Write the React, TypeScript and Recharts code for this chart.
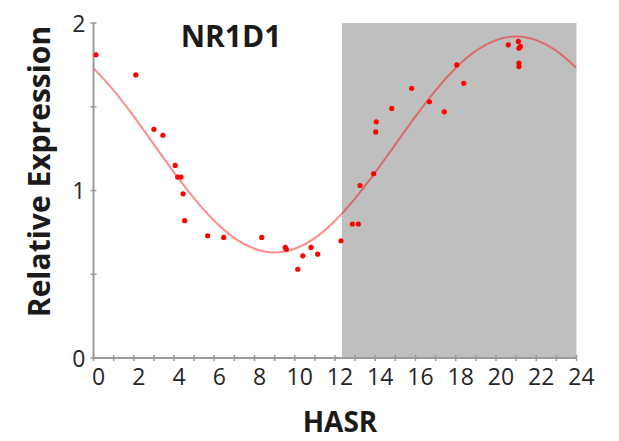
import React from 'react';
import { ComposedChart, Line, Scatter, XAxis, YAxis, ReferenceArea, Customized } from 'recharts';

// Measured samples
const sampleHours = [0.12, 2.1, 3.0, 3.45, 4.06, 4.18, 4.35, 4.45, 4.53, 5.67, 6.47, 8.36, 9.53, 9.58, 10.15, 10.4, 10.81, 11.14, 12.3, 12.86, 13.16, 13.24, 13.92, 14.02, 14.05, 14.82, 15.81, 16.69, 17.43, 18.05, 18.4, 20.61, 21.11, 21.14, 21.21, 21.14, 21.14];
const sampleValues = [1.81, 1.69, 1.365, 1.33, 1.15, 1.08, 1.08, 0.98, 0.82, 0.73, 0.72, 0.72, 0.66, 0.65, 0.53, 0.61, 0.66, 0.62, 0.7, 0.8, 0.8, 1.03, 1.1, 1.35, 1.41, 1.49, 1.61, 1.53, 1.47, 1.75, 1.64, 1.87, 1.89, 1.85, 1.86, 1.76, 1.74];

// Fitted curve, hourly
const fitHours = [0, 1, 2, 3, 4, 5, 6, 7, 8, 9, 10, 11, 12, 13, 14, 15, 16, 17, 18, 19, 20, 21, 22, 23, 24];
const fitValues = [1.731, 1.598, 1.442, 1.275, 1.108, 0.953, 0.819, 0.716, 0.652, 0.63, 0.652, 0.716, 0.819, 0.953, 1.108, 1.275, 1.442, 1.598, 1.731, 1.834, 1.898, 1.92, 1.898, 1.834, 1.731];

const xTicks = [0, 1, 2, 3, 4, 5, 6, 7, 8, 9, 10, 11, 12, 13, 14, 15, 16, 17, 18, 19, 20, 21, 22, 23, 24];
const yTicks = [0, 0.5, 1, 1.5, 2];
const shadeStart = 12.35;
const shadeEnd = 24;

const titleText = 'NR1D1';
const xTitle = 'HASR';
const yTitle = 'Relative Expression';

const samples = sampleHours.map((h, i) => ({ hour: h, value: sampleValues[i] }));
const fit = fitHours.map((h, i) => ({ hour: h, fit: fitValues[i] }));

const FONT = '"Open Sans", sans-serif';
const AXIS = '#9a9a9a';

const XTick = (props: any) => {
  const { x, y, payload } = props;
  const v = payload.value;
  return (
    <g>
      <line x1={x} x2={x} y1={y - 3} y2={y + 3} stroke={AXIS} strokeWidth={1.5} />
      {v % 2 === 0 ? (
        <text x={x + 5} y={y + 27} textAnchor="middle" fontFamily={FONT} fontSize={23} fill="#262626">
          {v}
        </text>
      ) : null}
    </g>
  );
};

const YTick = (props: any) => {
  const { x, y, payload } = props;
  const v = payload.value;
  return (
    <g>
      <line x1={x - 3} x2={x + 3} y1={y} y2={y} stroke={AXIS} strokeWidth={1.5} />
      {Number.isInteger(v) ? (
        <text x={x - 8} y={y + 8.5} textAnchor="end" fontFamily={FONT} fontSize={23} fill="#262626">
          {v}
        </text>
      ) : null}
    </g>
  );
};

const Titles = () => (
  <g>
    <text x={223} y={38.7} textAnchor="middle" fontFamily={FONT} fontWeight={700} fontSize={30} fill="#1a1a1a">
      {titleText}
    </text>
    <text x={332} y={423.7} textAnchor="middle" fontFamily={FONT} fontWeight={700} fontSize={28} fill="#1a1a1a">
      {xTitle}
    </text>
    <text
      x={42}
      y={163.5}
      textAnchor="middle"
      fontFamily={FONT}
      fontWeight={700}
      fontSize={30}
      fill="#1a1a1a"
      transform="rotate(-90, 42, 163.5)"
    >
      {yTitle}
    </text>
  </g>
);

export default function App() {
  return (
    <ComposedChart width={611} height={433} margin={{ top: 15, right: 42.5, bottom: 0, left: 0 }} data={fit}>
      <ReferenceArea x1={shadeStart} x2={shadeEnd} y1={0} y2={2} fill="#bfbfbf" fillOpacity={1} stroke="none" ifOverflow="visible" />
      <XAxis
        type="number"
        dataKey="hour"
        domain={[0, 24]}
        ticks={xTicks}
        interval={0}
        height={83}
        tickSize={0}
        tickMargin={0}
        tickLine={false}
        axisLine={{ stroke: AXIS, strokeWidth: 2 }}
        tick={XTick}
        allowDataOverflow
      />
      <YAxis
        type="number"
        domain={[0, 2]}
        ticks={yTicks}
        interval={0}
        width={85.5}
        tickSize={0}
        tickMargin={0}
        tickLine={false}
        axisLine={{ stroke: AXIS, strokeWidth: 2 }}
        tick={YTick}
        allowDataOverflow
      />
      <Line
        type="natural"
        dataKey="fit"
        stroke="#ff0000"
        strokeOpacity={0.45}
        strokeWidth={2}
        dot={false}
        activeDot={false}
        isAnimationActive={false}
      />
      <Scatter data={samples} dataKey="value" fill="#ff0000" isAnimationActive={false} shape={(p: any) => <circle cx={p.cx} cy={p.cy} r={2.6} fill="#ff0000" />} />
      <Customized component={Titles} />
    </ComposedChart>
  );
}
